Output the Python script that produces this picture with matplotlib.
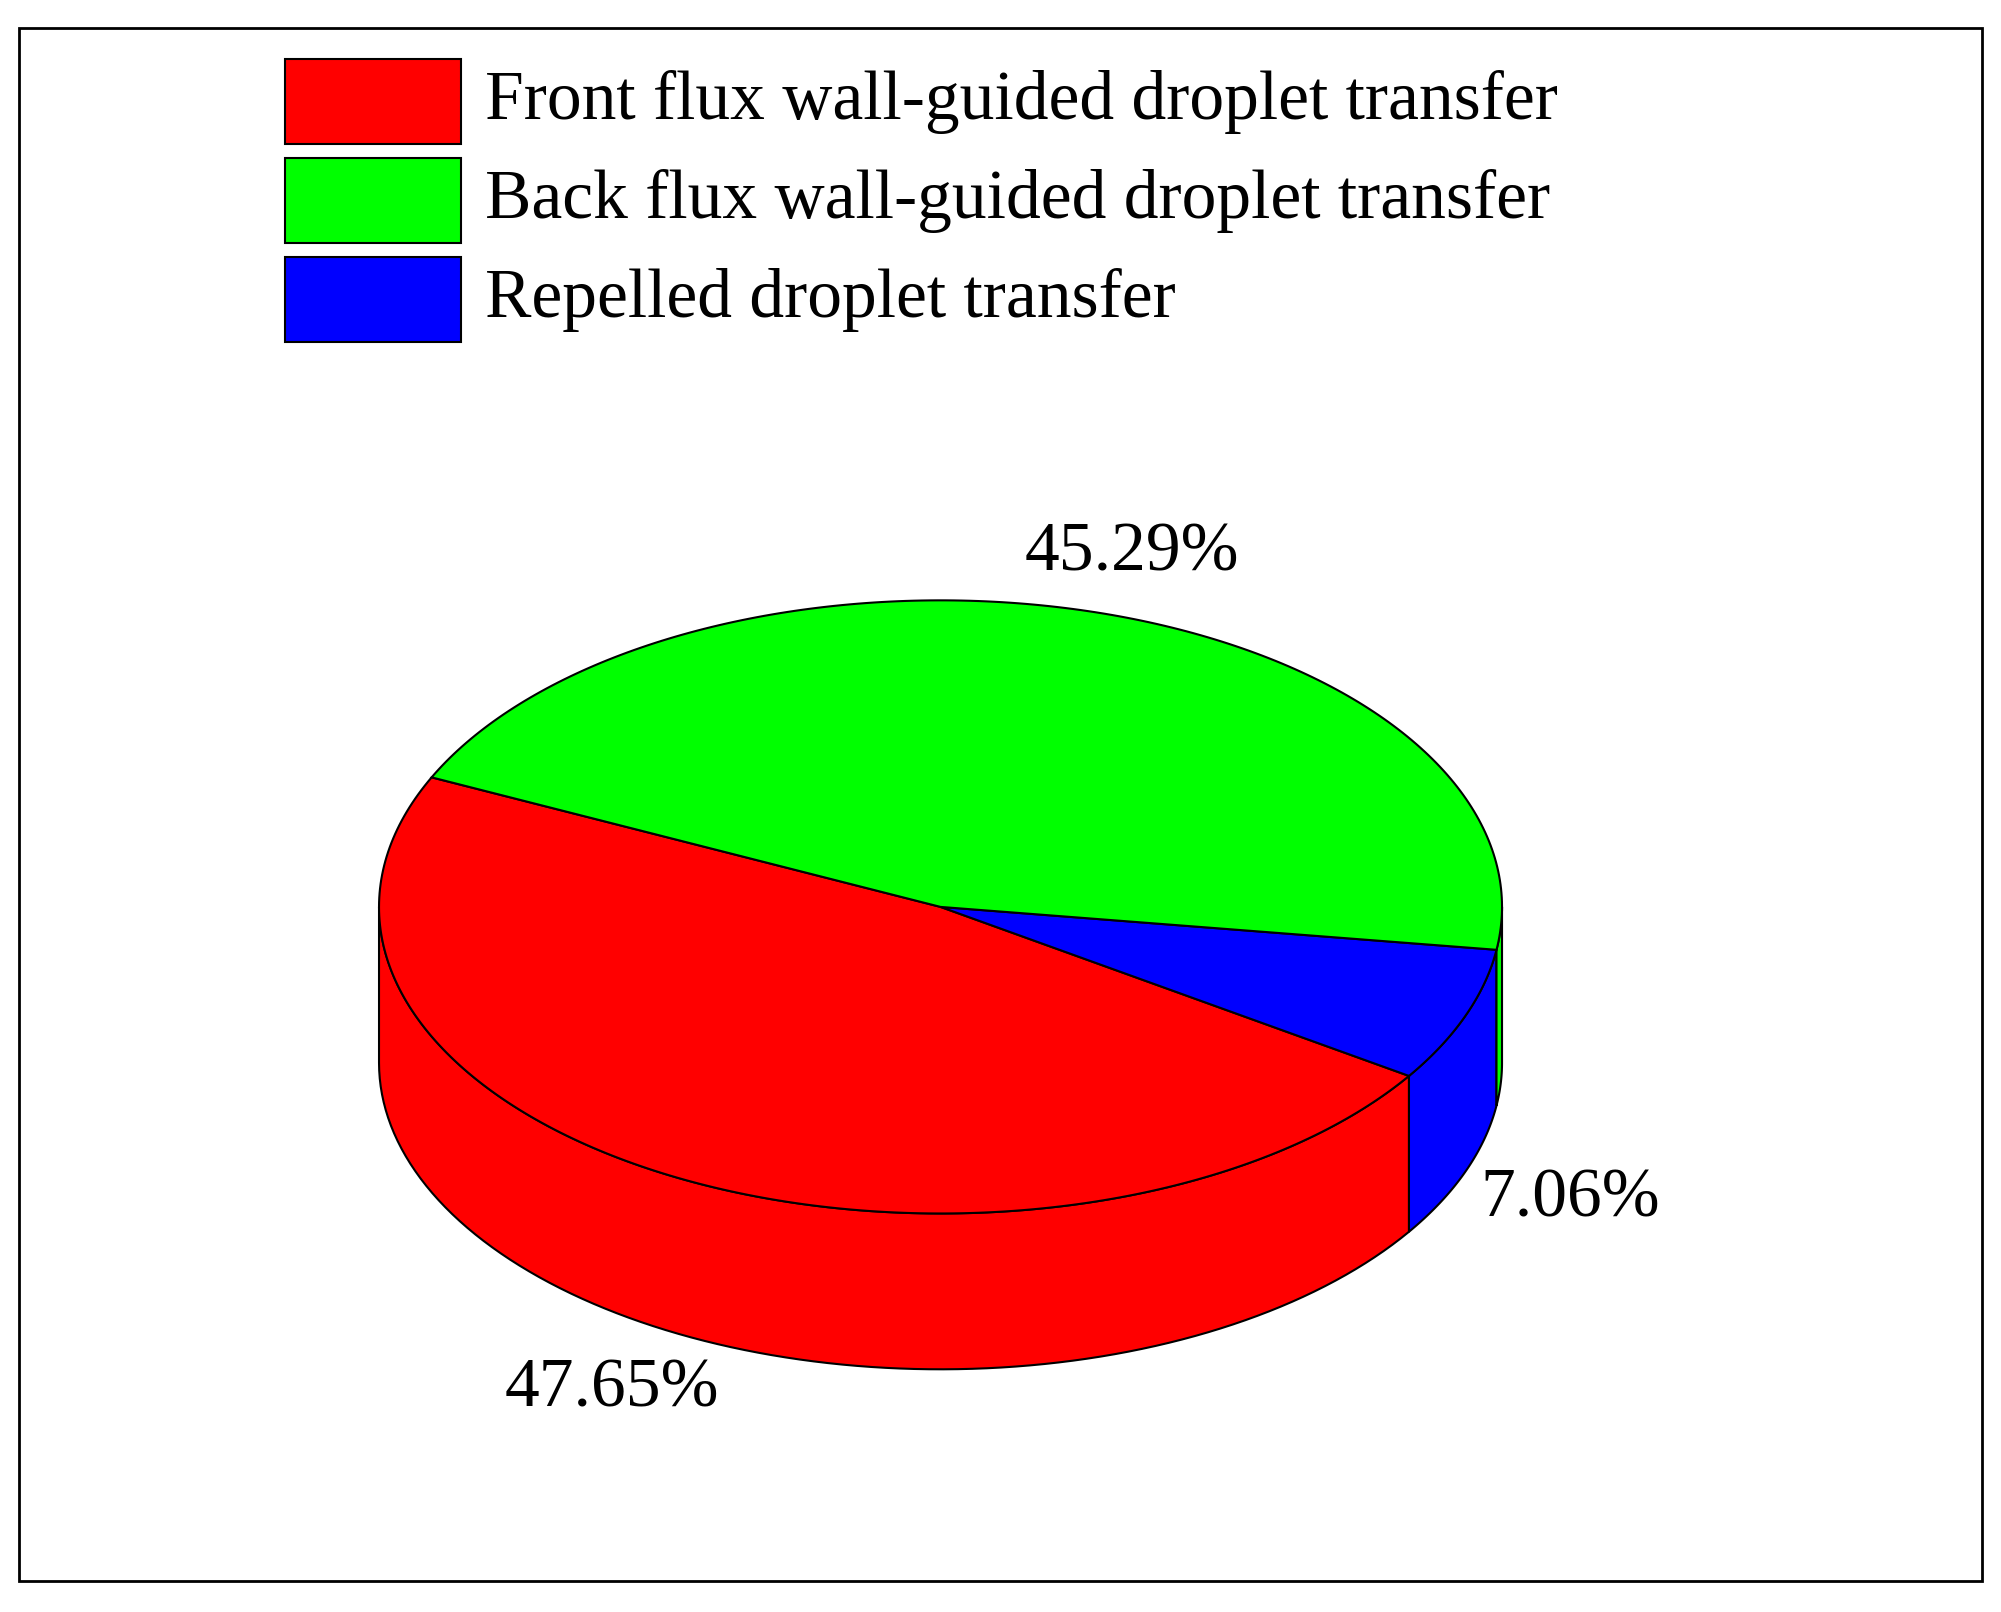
import numpy as np
import matplotlib
matplotlib.use("Agg")
import matplotlib.pyplot as plt
from matplotlib.patches import Polygon, Rectangle

labels = ["Front flux wall-guided droplet transfer",
          "Back flux wall-guided droplet transfer",
          "Repelled droplet transfer"]
values = [47.65, 45.29, 7.06]
colors = ["#ff0000", "#00ff00", "#0000ff"]
order = [0, 2, 1]  # counter-clockwise drawing order starting at start angle
start = 155.0

W, H = 1568, 1262
fig = plt.figure(figsize=(20.01, 16.12), dpi=100)
ax = fig.add_axes([0, 0, 1, 1])
ax.set_xlim(0, W); ax.set_ylim(H, 0); ax.axis("off")
plt.rcParams['font.family'] = ['Liberation Serif', 'DejaVu Serif']

cx, cy, rx, ry, depth = 737, 710, 440, 240, 122

def pt(t, dy=0):
    r = np.radians(t)
    return cx + rx * np.cos(r), cy - ry * np.sin(r) + dy

tot = sum(values)
ang = start
spans = []
for i in order:
    span = values[i] / tot * 360
    spans.append((i, ang, ang + span))
    ang += span

# sides
for i, a0, a1 in spans:
    for off in (0, 360, -360):
        lo, hi = max(a0 + off, 180), min(a1 + off, 360)
        if hi > lo:
            ts = np.linspace(lo, hi, 100)
            top = [pt(t) for t in ts]
            bot = [pt(t, depth) for t in ts[::-1]]
            ax.add_patch(Polygon(top + bot, closed=True, fc=colors[i], ec="black", lw=1.5, zorder=2))
# top
for i, a0, a1 in spans:
    ts = np.linspace(a0, a1, 200)
    ptsl = [(cx, cy)] + [pt(t) for t in ts]
    ax.add_patch(Polygon(ptsl, closed=True, fc=colors[i], ec="black", lw=1.5, zorder=3))

# labels
for i, a0, a1 in spans:
    m = (a0 + a1) / 2
    x, y = pt(m)
    x = cx + (x - cx) * 1.2
    y = cy + (y - cy) * 1.2 + (depth + 5 if np.sin(np.radians(m)) < 0 else 0)
    ax.text(x, y, f"{values[i]:.2f}%", fontsize=50, ha="center", va="center", zorder=4)

# frame
ax.add_patch(Rectangle((15, 22), 1538, 1216, fill=False, ec="black", lw=2))
# legend
for k, (lab, c) in enumerate(zip(labels, colors)):
    y0 = 46 + k * 77.5
    ax.add_patch(Rectangle((223, y0), 138, 67, fc=c, ec="black", lw=1.5))
    ax.text(380, y0 + 34, lab, fontsize=50, va="center", ha="left")

fig.savefig("out.png", dpi=100)
